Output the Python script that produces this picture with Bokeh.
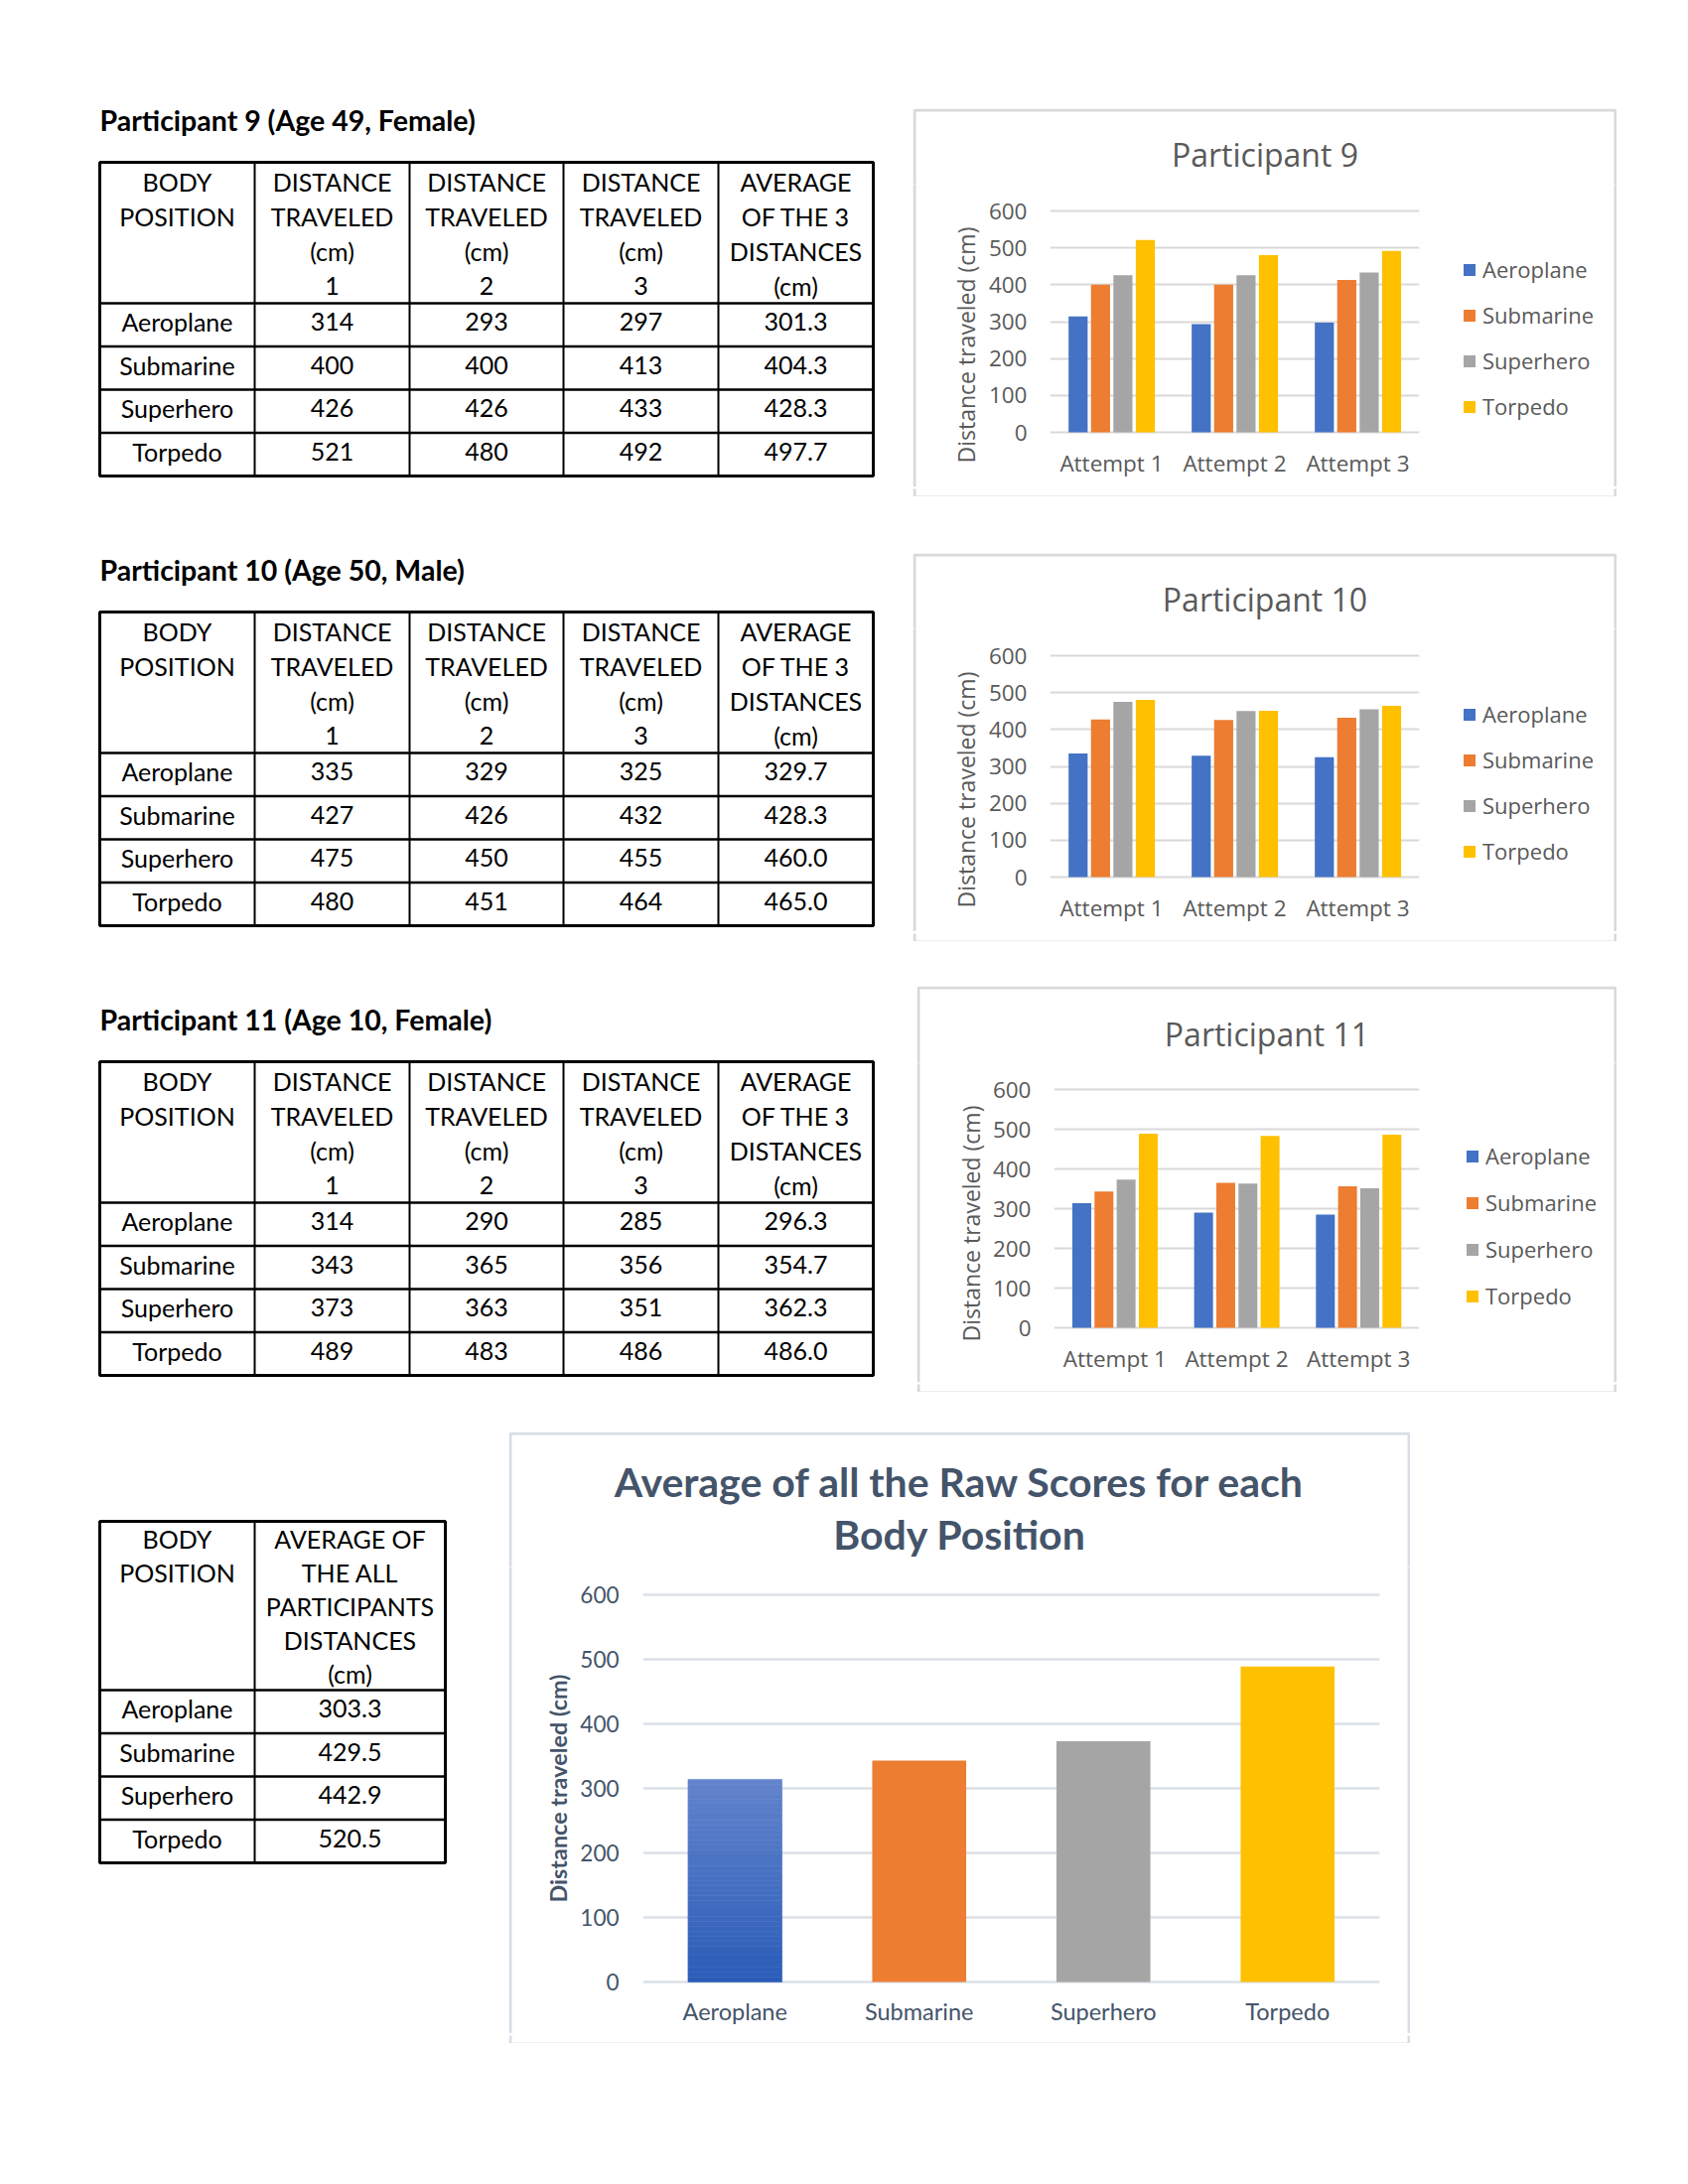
import math
from bokeh.plotting import figure
from bokeh.models import (Range1d, FactorRange, FixedTicker, Spacer, ColumnDataSource,
                          Legend, LegendItem, Grid)
from bokeh.layouts import row, column
from bokeh.transform import dodge
from bokeh.core.properties import value
from bokeh.embed import file_html
from bokeh.resources import INLINE

# ---------------- data ----------------
attempts = ["Attempt 1", "Attempt 2", "Attempt 3"]
positions = ["Aeroplane", "Submarine", "Superhero", "Torpedo"]
colors = ["#4472C4", "#ED7D31", "#A5A5A5", "#FFC000"]
y_ticks = [0, 100, 200, 300, 400, 500, 600]

p9_aeroplane = [314, 293, 297]
p9_submarine = [400, 400, 413]
p9_superhero = [426, 426, 433]
p9_torpedo = [521, 480, 492]
p9_average = [301.3, 404.3, 428.3, 497.7]

p10_aeroplane = [335, 329, 325]
p10_submarine = [427, 426, 432]
p10_superhero = [475, 450, 455]
p10_torpedo = [480, 451, 464]
p10_average = [329.7, 428.3, 460.0, 465.0]

p11_aeroplane = [314, 290, 285]
p11_submarine = [343, 365, 356]
p11_superhero = [373, 363, 351]
p11_torpedo = [489, 483, 486]
p11_average = [296.3, 354.7, 362.3, 486.0]

all_average = [303.3, 429.5, 442.9, 520.5]
avg_chart_values = [314, 343, 373, 489]

titles_tables = ["Participant 9 (Age 49, Female)",
                 "Participant 10 (Age 50, Male)",
                 "Participant 11 (Age 10, Female)"]
chart_titles = ["Participant 9", "Participant 10", "Participant 11"]
avg_title = ["Average of all the Raw Scores for each", "Body Position"]
y_title = "Distance traveled (cm)"

hdr_body = ["BODY", "POSITION"]
hdr_d1 = ["DISTANCE", "TRAVELED", "(cm)", "1"]
hdr_d2 = ["DISTANCE", "TRAVELED", "(cm)", "2"]
hdr_d3 = ["DISTANCE", "TRAVELED", "(cm)", "3"]
hdr_avg = ["AVERAGE", "OF THE 3", "DISTANCES", "(cm)"]
hdr_all = ["AVERAGE OF", "THE ALL", "PARTICIPANTS", "DISTANCES", "(cm)"]

TFONT = "Lato"
CFONT = "Open Sans"
NAN = float("nan")


# ---------------- helpers ----------------
def page_fig(x0, x1, y0, y1, box=None, box_color="#D9D9D9"):
    p = figure(width=x1 - x0, height=y1 - y0, x_range=Range1d(x0, x1),
               y_range=Range1d(y1, y0), tools="", toolbar_location=None,
               output_backend="svg", min_border=0, frame_align=False,
               x_axis_location=None, y_axis_location=None)
    p.outline_line_color = None
    p.background_fill_color = "white"
    p.border_fill_color = "white"
    for g in p.select(type=Grid):
        g.visible = False
    if box is not None:
        bx0, by0, bx1, by1 = box
        p.quad(left=[bx0 + 1.5], right=[bx1 - 1.5], top=[by0 + 1.5], bottom=[by1 - 1.5],
               fill_color=None, line_color=box_color, line_width=3)
    return p


def draw_table(p, top, col_edges, headers, rows, header_h, first_c, line_gap,
               row_h=43.5, fsize=25):
    left, right = col_edges[0], col_edges[-1]
    bottom = top + header_h + row_h * len(rows)
    vx = col_edges[1:-1]
    p.segment(x0=vx, y0=[top] * len(vx), x1=vx, y1=[bottom] * len(vx),
              line_color="black", line_width=2)
    hy = [top + header_h + row_h * i for i in range(len(rows))]
    p.segment(x0=[left] * len(hy), y0=hy, x1=[right] * len(hy), y1=hy,
              line_color="black", line_width=2.5)
    p.quad(left=[left], right=[right], top=[top], bottom=[bottom],
           fill_color=None, line_color="black", line_width=3)
    centers = [(col_edges[i] + col_edges[i + 1]) / 2 for i in range(len(col_edges) - 1)]
    tx, ty, tt = [], [], []
    for ci, lines in enumerate(headers):
        for li, s in enumerate(lines):
            tx.append(centers[ci])
            ty.append(top + first_c + li * line_gap)
            tt.append(s)
    for ri, r in enumerate(rows):
        for ci, s in enumerate(r):
            tx.append(centers[ci])
            ty.append(top + header_h + row_h * ri + row_h / 2 - 3)
            tt.append(s)
    p.text(x=tx, y=ty, text=tt, text_align="center", text_baseline="middle",
           text_font=value(TFONT), text_font_size=f"{fsize}px", text_color="black")


def style_axes(p, font, size, color):
    for ax in (p.xaxis, p.yaxis):
        ax.axis_line_color = None
        ax.major_tick_line_color = None
        ax.minor_tick_line_color = None
        ax.major_tick_out = 0
        ax.major_tick_in = 0
        ax.major_label_text_font = font
        ax.major_label_text_font_size = size
        ax.major_label_text_color = color


def part_chart(title, box, frame, split, title_c, ylab_c, legend_x, legend_first,
               lg_spacing, series):
    bx0, by0, bx1, by1 = box
    fx0, fy600, fx1, fy0 = frame
    sx, sy = split
    BS = 10
    yb = by1 - BS
    pad = 3
    u = 600.0 / (fy0 - fy600)
    lx0 = fx1 + 10
    # title strip
    tf = page_fig(bx0, bx1, by0, sy, box)
    tf.text(x=[(bx0 + bx1) / 2], y=[title_c], text=[title], text_align="center",
            text_baseline="middle", text_font=value(CFONT), text_font_size="32px",
            text_color="#595959")
    # y-axis title strip
    yf = page_fig(bx0, sx, sy, yb, box)
    yf.text(x=[ylab_c[0]], y=[ylab_c[1]], text=[y_title], angle=math.pi / 2,
            text_align="center", text_baseline="middle", text_font=value(CFONT),
            text_font_size="23px", text_color="#595959")
    # chart
    p = figure(width=lx0 - sx, height=yb - sy, x_range=FactorRange(*attempts),
               y_range=Range1d(-pad * u, 600 + pad * u), tools="",
               toolbar_location=None, output_backend="svg", frame_align=False,
               min_border_left=fx0 - sx, min_border_right=lx0 - fx1,
               min_border_top=fy600 - pad - sy, min_border_bottom=yb - fy0 - pad)
    p.outline_line_color = None
    src = ColumnDataSource(dict(att=attempts, **{positions[i]: series[i] for i in range(4)}))
    offs = [-0.272, -0.09, 0.092, 0.274]
    for i, nm in enumerate(positions):
        p.vbar(x=dodge("att", offs[i], range=p.x_range), top=nm, bottom=0, width=0.155,
               source=src, fill_color=colors[i], line_color=None)
    p.xgrid.visible = False
    p.ygrid.ticker = FixedTicker(ticks=y_ticks)
    p.ygrid.grid_line_color = "#D9D9D9"
    p.ygrid.grid_line_width = 2
    p.yaxis.ticker = FixedTicker(ticks=y_ticks)
    style_axes(p, CFONT, "22.5px", "#595959")
    p.yaxis.major_label_standoff = 23
    p.xaxis.major_label_standoff = 12
    # legend strip (legend keys use the series colours)
    lf = page_fig(lx0, bx1, sy, yb, box)
    items = []
    for i, nm in enumerate(positions):
        r = lf.vbar(x=[NAN], top=[NAN], bottom=[NAN], width=1, fill_color=colors[i],
                    line_color=None)
        items.append(LegendItem(label=nm, renderers=[r]))
    lg = Legend(items=items, glyph_width=15, glyph_height=15, label_height=30,
                spacing=lg_spacing, padding=0, margin=0, label_standoff=6,
                border_line_color=None, background_fill_color=None,
                label_text_font=CFONT, label_text_font_size="22px",
                label_text_color="#595959")
    lg_h = 4 * 30 + 3 * lg_spacing
    lg_bottom = legend_first - 15 + lg_h
    lg.location = (legend_x - lx0, yb - lg_bottom)
    lf.add_layout(lg)
    # bottom strip
    bf = page_fig(bx0, bx1, yb, by1, box)
    return column(tf, row(yf, p, lf), bf)


def avg_chart(box, frame, split_y):
    bx0, by0, bx1, by1 = box
    fx0, fy600, fx1, fy0 = frame
    BS = 10
    yb = by1 - BS
    xl, xr = bx0 + BS, bx1 - BS
    pad = 3
    u = 600.0 / (fy0 - fy600)
    bc = "#D9DEE6"
    tf = page_fig(bx0, bx1, by0, split_y, box, bc)
    cx = (bx0 + bx1) / 2
    tf.text(x=[cx, cx], y=[1491.5, 1544.5], text=avg_title, text_align="center",
            text_baseline="middle", text_font=value(TFONT), text_font_size="41px",
            text_font_style="bold", text_color="#44546A")
    ls = page_fig(bx0, xl, split_y, yb, box, bc)
    rs = page_fig(xr, bx1, split_y, yb, box, bc)
    bf = page_fig(bx0, bx1, yb, by1, box, bc)
    p = figure(width=xr - xl, height=yb - split_y, x_range=FactorRange(*positions),
               y_range=Range1d(-pad * u, 600 + pad * u), tools="",
               toolbar_location=None, output_backend="svg", frame_align=False,
               min_border_left=fx0 - xl, min_border_right=xr - fx1,
               min_border_top=fy600 - pad - split_y, min_border_bottom=yb - fy0 - pad)
    p.outline_line_color = None
    # gradient bar for the first category (bands from 0 to its value)
    n = 40
    v0 = avg_chart_values[0]
    c_bot = (0x2A, 0x5C, 0xB8)
    c_top = (0x63, 0x84, 0xCC)
    gb, gt, gc = [], [], []
    for k in range(n):
        t = (k + 0.5) / n
        gb.append(v0 * k / n)
        gt.append(v0 * (k + 1) / n)
        cc = tuple(int(round(c_bot[j] + (c_top[j] - c_bot[j]) * t)) for j in range(3))
        gc.append("#%02x%02x%02x" % cc)
    p.vbar(x=[positions[0]] * n, bottom=gb, top=gt, width=0.51, fill_color=gc,
           line_color=gc, line_width=0.6)
    src = ColumnDataSource(dict(pos=positions[1:], val=avg_chart_values[1:], col=colors[1:]))
    p.vbar(x="pos", top="val", bottom=0, width=0.51, fill_color="col", line_color=None,
           source=src)
    p.xgrid.visible = False
    p.ygrid.ticker = FixedTicker(ticks=y_ticks)
    p.ygrid.grid_line_color = "#DCE1E8"
    p.ygrid.grid_line_width = 2.5
    p.yaxis.ticker = FixedTicker(ticks=y_ticks)
    style_axes(p, TFONT, "22.5px", "#44546A")
    p.xaxis.major_label_text_font_size = "23.5px"
    p.yaxis.major_label_standoff = 24
    p.xaxis.major_label_standoff = 12
    p.yaxis.axis_label = y_title
    p.yaxis.axis_label_text_font = TFONT
    p.yaxis.axis_label_text_font_size = "23.4px"
    p.yaxis.axis_label_text_font_style = "bold"
    p.yaxis.axis_label_text_color = "#44546A"
    p.yaxis.axis_label_standoff = 5
    return column(tf, row(ls, p, rs), bf)


# ---------------- tables (left column) ----------------
left = page_fig(0, 913, 0, 1420)
cols5 = [100, 256, 412, 567, 723, 879]
table_tops = [163, 616, 1069]
part_data = [
    (p9_aeroplane, p9_submarine, p9_superhero, p9_torpedo, p9_average),
    (p10_aeroplane, p10_submarine, p10_superhero, p10_torpedo, p10_average),
    (p11_aeroplane, p11_submarine, p11_superhero, p11_torpedo, p11_average),
]
for ti in range(3):
    top = table_tops[ti]
    a, s, h, t, av = part_data[ti]
    series = [a, s, h, t]
    rows = []
    for i in range(4):
        rows.append([positions[i]] + [str(vv) for vv in series[i]] + ["%.1f" % av[i]])
    draw_table(left, top, cols5, [hdr_body, hdr_d1, hdr_d2, hdr_d3, hdr_avg], rows,
               header_h=142, first_c=19.5, line_gap=35)
    left.text(x=[100], y=[top - 42.5], text=[titles_tables[ti]], text_align="left",
              text_baseline="middle", text_font=value(TFONT), text_font_size="28.5px",
              text_font_style="bold", text_color="black")

# ---------------- charts ----------------
c1 = part_chart(chart_titles[0], (919, 109, 1628, 500), (1057, 212, 1429, 435),
                (990, 185), 154.5, (972, 347), 1472, 271, 16,
                [p9_aeroplane, p9_submarine, p9_superhero, p9_torpedo])
c2 = part_chart(chart_titles[1], (919, 557, 1628, 948), (1057, 660, 1429, 883),
                (990, 633), 602.5, (972, 795), 1472, 719, 16,
                [p10_aeroplane, p10_submarine, p10_superhero, p10_torpedo])
c3 = part_chart(chart_titles[2], (923, 993, 1628, 1402), (1061, 1097, 1429, 1337),
                (994, 1070), 1040.5, (977, 1232), 1475, 1164, 17,
                [p11_aeroplane, p11_submarine, p11_superhero, p11_torpedo])

right_col = column(
    Spacer(width=10, height=109),
    row(Spacer(width=6, height=391), c1),
    Spacer(width=10, height=57),
    row(Spacer(width=6, height=391), c2),
    Spacer(width=10, height=45),
    row(Spacer(width=10, height=409), c3),
)
top_part = row(left, right_col)

# ---------------- bottom ----------------
t4 = page_fig(0, 512, 1420, 2058)
rows4 = [[positions[i], "%.1f" % all_average[i]] for i in range(4)]
draw_table(t4, 1532, [100, 256, 448], [hdr_body, hdr_all], rows4,
           header_h=170, first_c=17, line_gap=34)
av = avg_chart((512, 1442, 1420, 2058), (647, 1606, 1389, 1996), 1578)
bottom_part = row(t4, column(Spacer(width=908, height=22), av))

page = column(top_part, bottom_part)
open("out.html", "w").write(file_html(page, INLINE))
